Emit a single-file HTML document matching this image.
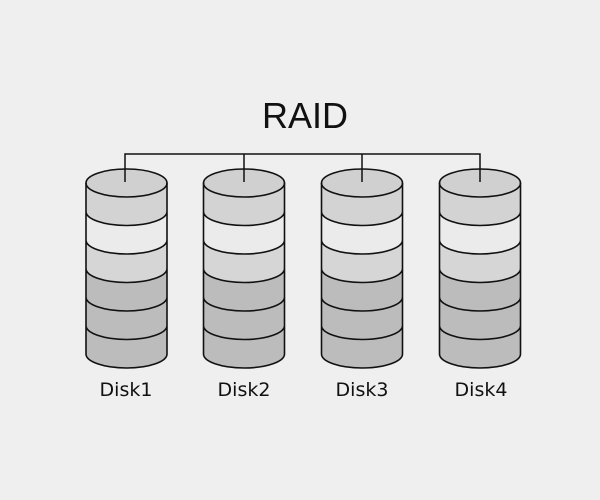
<!DOCTYPE html>
<html><head><style>body{margin:0;background:#efefef}</style></head><body>
<svg width="600" height="500" xmlns="http://www.w3.org/2000/svg" style="display:block">
<defs>
<g id="d" stroke="#111" stroke-width="1.6">
<path d="M-40.5 183 A40.5 14 0 0 0 40.5 183 L40.5 211.5 A40.5 14 0 0 1 -40.5 211.5Z" fill="#d3d3d3" stroke="none"/>
<path d="M-40.5 211.5 A40.5 14 0 0 0 40.5 211.5 L40.5 240 A40.5 14 0 0 1 -40.5 240Z" fill="#ebebeb" stroke="none"/>
<path d="M-40.5 240 A40.5 14 0 0 0 40.5 240 L40.5 268.5 A40.5 14 0 0 1 -40.5 268.5Z" fill="#d6d6d6" stroke="none"/>
<path d="M-40.5 268.5 A40.5 14 0 0 0 40.5 268.5 L40.5 354 A40.5 14 0 0 1 -40.5 354Z" fill="#bcbcbc" stroke="none"/>
<ellipse cx="0" cy="183" rx="40.5" ry="14" fill="#d0d0d0"/>
<path d="M-40.5 211.5 A40.5 14 0 0 0 40.5 211.5 M-40.5 240 A40.5 14 0 0 0 40.5 240 M-40.5 268.5 A40.5 14 0 0 0 40.5 268.5 M-40.5 297 A40.5 14 0 0 0 40.5 297 M-40.5 325.5 A40.5 14 0 0 0 40.5 325.5 M-40.5 354 A40.5 14 0 0 0 40.5 354 M-40.5 183 V354 M40.5 183 V354" fill="none"/>
</g>
</defs>
<rect width="600" height="500" fill="#efefef"/>
<text x="305" y="128" font-family="Liberation Sans, sans-serif" font-size="36" text-anchor="middle" fill="#111">RAID</text>
<use href="#d" transform="translate(126.5,0)"/>
<use href="#d" transform="translate(244,0)"/>
<use href="#d" transform="translate(362,0)"/>
<use href="#d" transform="translate(480,0)"/>
<path d="M125 182 V154 H480 V182 M244 154 V182 M362 154 V182" fill="none" stroke="#111" stroke-width="1.5"/>
<g font-family="DejaVu Sans, sans-serif" font-size="19" text-anchor="middle" fill="#111">
<text x="126" y="396">Disk1</text><text x="244" y="396">Disk2</text><text x="362" y="396">Disk3</text><text x="481" y="396">Disk4</text>
</g>
</svg>
</body></html>
